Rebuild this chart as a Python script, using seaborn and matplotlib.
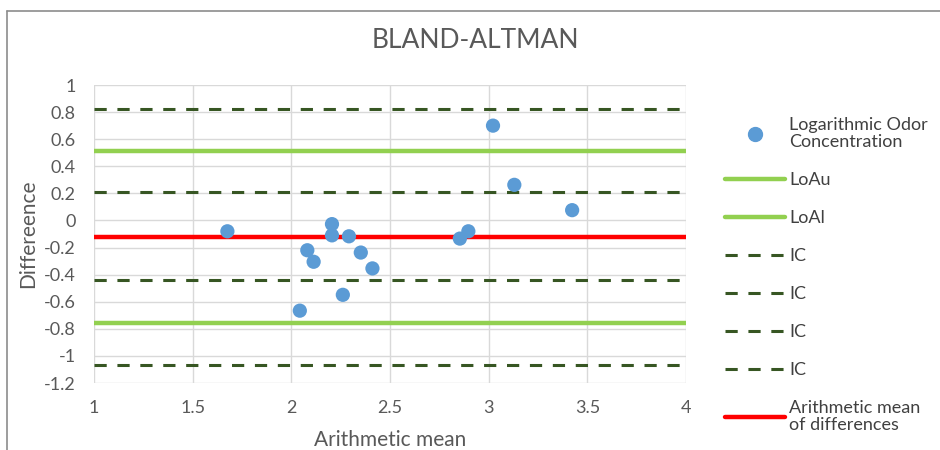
import matplotlib
matplotlib.use("Agg")
import matplotlib.pyplot as plt
import seaborn as sns
import pandas as pd
from matplotlib.lines import Line2D

# ---- data ----
mean_vals = [1.676, 2.206, 2.206, 2.292, 2.081, 2.113, 2.352, 2.411, 2.261, 2.043,
             2.854, 2.897, 3.022, 3.130, 3.423]
diff_vals = [-0.080, -0.027, -0.110, -0.117, -0.220, -0.305, -0.237, -0.354, -0.549, -0.666,
             -0.134, -0.080, 0.700, 0.263, 0.076]
loa_upper = 0.51
loa_lower = -0.76
ic_levels = [0.82, 0.21, -0.44, -1.07]
mean_diff = -0.12
x_ticks = [1, 1.5, 2, 2.5, 3, 3.5, 4]
y_ticks = [1, 0.8, 0.6, 0.4, 0.2, 0, -0.2, -0.4, -0.6, -0.8, -1, -1.2]

sns.set_theme(style="white")
plt.rcParams['font.family'] = ['Lato', 'DejaVu Sans']

text_col = "#595959"
blue = "#5B9BD5"
green = "#92D050"
dgreen = "#375623"
red = "#FF0000"

fig = plt.figure(figsize=(9.4, 4.5), dpi=100)
ax = fig.add_axes([94/940, 1-383/450, (686-94)/940, (383-85)/450])

df = pd.DataFrame({"mean": mean_vals, "diff": diff_vals})

ax.axhline(loa_upper, color=green, lw=3.2, zorder=2)
ax.axhline(loa_lower, color=green, lw=3.2, zorder=2)
for lv in ic_levels:
    ax.axhline(lv, color=dgreen, lw=2.2, dashes=(4, 3.5), zorder=2)
ax.axhline(mean_diff, color=red, lw=3.2, zorder=2)

sns.scatterplot(data=df, x="mean", y="diff", ax=ax, color=blue, s=105,
                edgecolor="none", zorder=3, legend=False)

ax.set_xlim(1, 4)
ax.set_ylim(-1.2, 1)
ax.set_xticks(x_ticks)
ax.set_xticklabels([f"{v:g}" for v in x_ticks])
ax.set_yticks(y_ticks)
ax.set_yticklabels([f"{v:g}" for v in y_ticks])
ax.grid(True, color="#d9d9d9", lw=1)
ax.set_axisbelow(True)
for s in ax.spines.values():
    s.set_visible(False)
ax.tick_params(axis='y', colors=text_col, labelsize=13, length=0, pad=13)
ax.tick_params(axis='x', colors=text_col, labelsize=13, length=0, pad=12)

ax.set_xlabel("Arithmetic mean", color=text_col, fontsize=15, labelpad=10)
ax.set_ylabel("Differeence", color=text_col, fontsize=15, labelpad=4)
fig.text(475/940, 1-40/450, "BLAND-ALTMAN", ha="center", va="center",
         color=text_col, fontsize=19)

# chart-area border (left and top edges visible)
fig.add_artist(Line2D([7/940, 7/940], [0, 1-11/450], transform=fig.transFigure,
                      color="#8c8c8c", lw=1.2))
fig.add_artist(Line2D([7/940, 1], [1-11/450, 1-11/450], transform=fig.transFigure,
                      color="#8c8c8c", lw=1.2))

handles = [
    Line2D([], [], marker='o', color=blue, linestyle='none', markersize=10),
    Line2D([], [], color=green, lw=3.2),
    Line2D([], [], color=green, lw=3.2),
    Line2D([], [], color=dgreen, lw=2.2, dashes=(4, 3.5)),
    Line2D([], [], color=dgreen, lw=2.2, dashes=(4, 3.5)),
    Line2D([], [], color=dgreen, lw=2.2, dashes=(4, 3.5)),
    Line2D([], [], color=dgreen, lw=2.2, dashes=(4, 3.5)),
    Line2D([], [], color=red, lw=3.2),
]
labels = ["Logarithmic Odor\nConcentration", "LoAu", "LoAl", "IC", "IC", "IC", "IC",
          "Arithmetic mean\nof differences"]
leg = fig.legend(handles, labels, loc="upper left", bbox_to_anchor=(718/940, 1-110/450),
                 frameon=False, fontsize=13, handlelength=3.3, handletextpad=0.25,
                 labelspacing=1.22, borderaxespad=0)
for t in leg.get_texts():
    t.set_color("#404040")
    t.set_linespacing(1.05)

fig.savefig("out.png", dpi=100)
